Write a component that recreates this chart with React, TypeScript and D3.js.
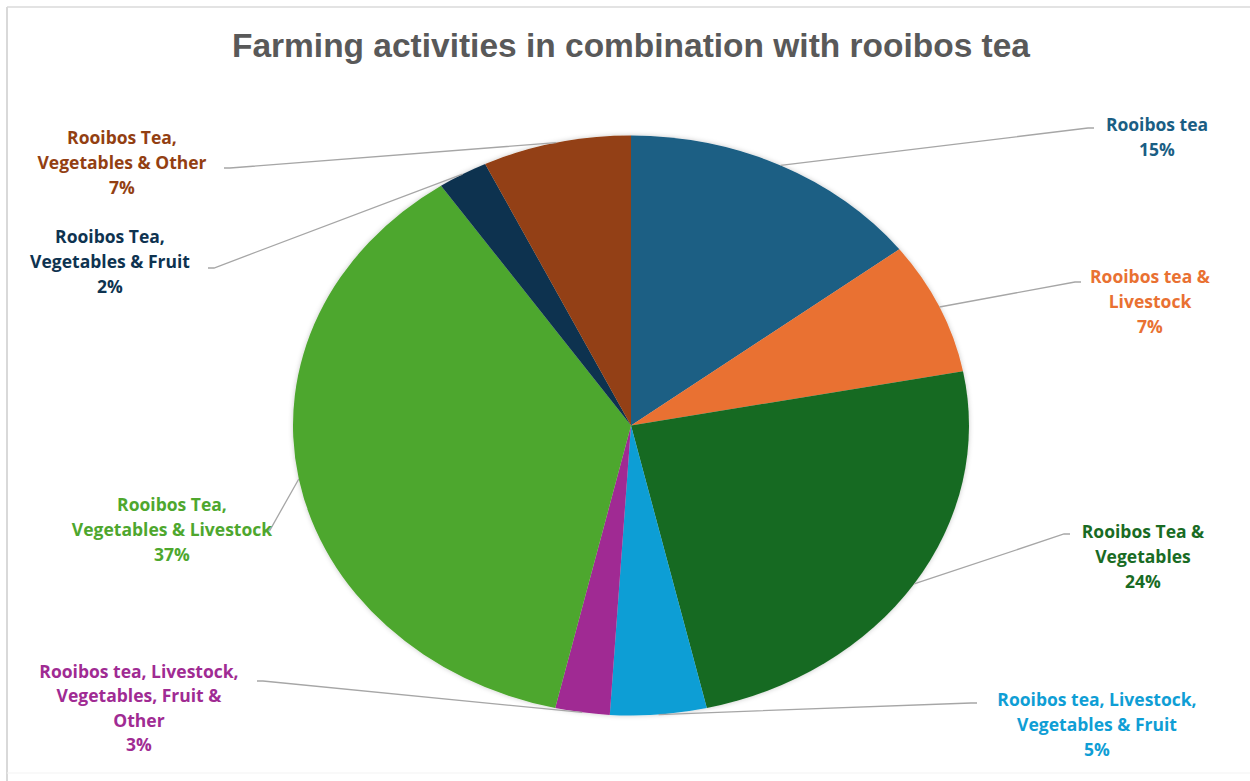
import React from "react";
import * as d3 from "d3";

const categories = [
  "Rooibos tea",
  "Rooibos tea & Livestock",
  "Rooibos Tea & Vegetables",
  "Rooibos tea, Livestock, Vegetables & Fruit",
  "Rooibos tea, Livestock, Vegetables, Fruit & Other",
  "Rooibos Tea, Vegetables & Livestock",
  "Rooibos Tea, Vegetables & Fruit",
  "Rooibos Tea, Vegetables & Other",
];
const values = [14.6, 7.4, 24.4, 4.6, 2.6, 36.9, 2.4, 7.1];
const labelLines = [
  ["Rooibos tea"],
  ["Rooibos tea &", "Livestock"],
  ["Rooibos Tea &", "Vegetables"],
  ["Rooibos tea, Livestock,", "Vegetables & Fruit"],
  ["Rooibos tea, Livestock,", "Vegetables, Fruit &", "Other"],
  ["Rooibos Tea,", "Vegetables & Livestock"],
  ["Rooibos Tea,", "Vegetables & Fruit"],
  ["Rooibos Tea,", "Vegetables & Other"],
];
const colors = ["#1A5E84", "#E97132", "#196B24", "#0F9ED5", "#A02B93", "#4EA72E", "#0E3350", "#933F12"];
const title = "Farming activities in combination with rooibos tea";

// layout (positions of label blocks and leader anchors)
const labelLayout = [
  { cx: 1157, y0: 125, ax: 1094, ay: 128, side: "right" },
  { cx: 1150, y0: 277, ax: 1081, ay: 282, side: "right" },
  { cx: 1143, y0: 532, ax: 1070, ay: 534, side: "right" },
  { cx: 1097, y0: 700, ax: 977, ay: 703, side: "right" },
  { cx: 139, y0: 672, ax: 257, ay: 681, side: "left" },
  { cx: 172, y0: 505, ax: 264, ay: 530, side: "left" },
  { cx: 110, y0: 237, ax: 208, ay: 268, side: "left" },
  { cx: 122, y0: 138, ax: 224, ay: 168, side: "left" },
];

const W = 1250;
const H = 781;
const cx = 631;
const cy = 425.5;
const rx = 338;
const ry = 290;

export default function App() {
  const total = d3.sum(values);
  const pie = d3.pie<number>().sort(null).value((d) => d);
  const arcs = pie(values);
  const arc = d3.arc<d3.PieArcDatum<number>>().innerRadius(0).outerRadius(ry);
  const fmt = d3.format(".0%");
  const lineH = 25;

  return (
    <div style={{ position: "absolute", left: 0, top: 0 }}>
      <svg width={W} height={H} style={{ display: "block", background: "#fff" }}>
        <defs>
          <filter id="sh" x="-10%" y="-10%" width="120%" height="120%">
            <feDropShadow dx="0" dy="0" stdDeviation="2.5" floodColor="#000" floodOpacity="0.22" />
          </filter>
        </defs>
        <line x1={7} y1={7} x2={W} y2={7} stroke="#e3e3e3" strokeWidth={2} />
        <line x1={7} y1={7} x2={7} y2={H} stroke="#d9d9d9" strokeWidth={2} />
        <line x1={7} y1={773} x2={W} y2={773} stroke="#f3f3f3" strokeWidth={1} />
        <text
          x={631}
          y={57}
          textAnchor="middle"
          fontFamily="'Liberation Sans Narrow', 'Liberation Sans', sans-serif"
          fontWeight={700}
          fontSize={33}
          fill="#595959"
          textLength={798}
          lengthAdjust="spacingAndGlyphs"
        >
          {title}
        </text>
        <g transform={`translate(${cx},${cy}) scale(${rx / ry},1)`} filter="url(#sh)">
          {arcs.map((a, i) => (
            <path key={categories[i]} d={arc(a) || ""} fill={colors[i]} />
          ))}
        </g>
        {arcs.map((a, i) => {
          const L = labelLayout[i];
          const mid = (a.startAngle + a.endAngle) / 2;
          const ex = cx + rx * Math.sin(mid);
          const ey = cy - ry * Math.cos(mid);
          const tx = L.side === "right" ? L.ax - 6 : L.ax + 6;
          const pts: [number, number][] = [[ex, ey], [tx, L.ay], [L.ax, L.ay]];
          const lines = [...labelLines[i], fmt(values[i] / total)];
          return (
            <g key={"l" + i}>
              <path d={d3.line()(pts) || ""} fill="none" stroke="#a6a6a6" strokeWidth={1.3} />
              <text
                x={L.cx}
                textAnchor="middle"
                fontFamily="'Open Sans', sans-serif"
                fontWeight={700}
                fontSize={17.5}
                fill={colors[i]}
              >
                {lines.map((t, k) => (
                  <tspan key={k} x={L.cx} y={L.y0 + 6 + k * (i === 4 ? 24.3 : lineH)}>
                    {t}
                  </tspan>
                ))}
              </text>
            </g>
          );
        })}
      </svg>
    </div>
  );
}
